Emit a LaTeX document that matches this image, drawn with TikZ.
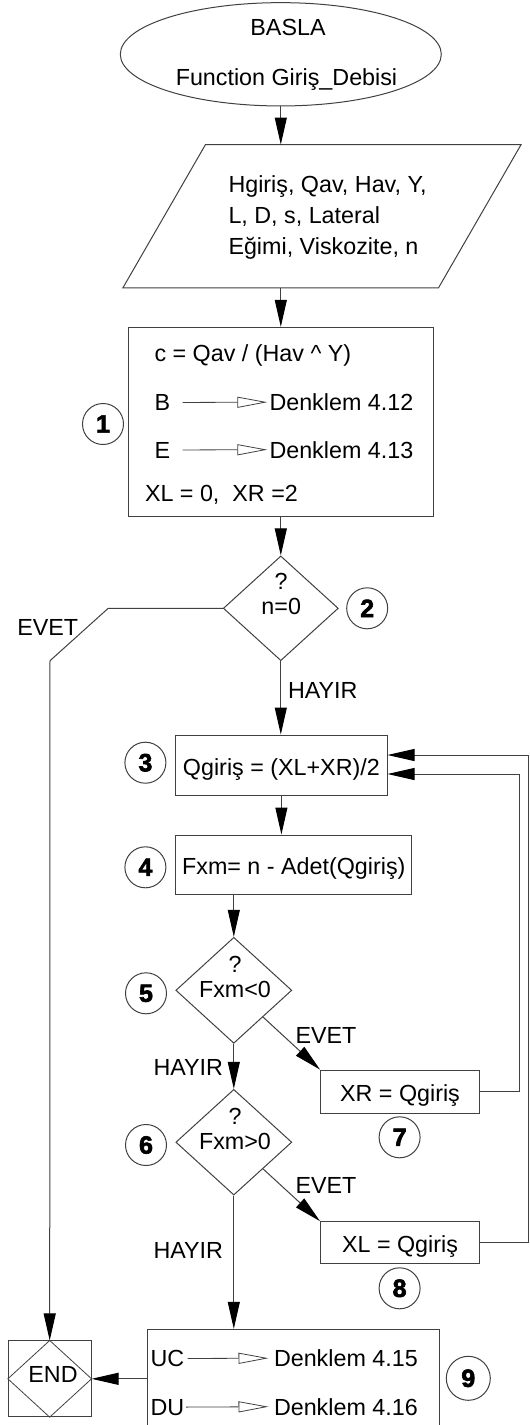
\documentclass[tikz,border=0pt]{standalone}
\usepackage{fontspec}
\setmainfont{Liberation Sans}
\newfontfamily\stepfont[BoldFeatures={FakeBold=2.5}]{Liberation Sans}
\usetikzlibrary{shapes.geometric,arrows.meta}

\newcommand\flowfont{\fontsize{23.3}{25}\selectfont}

\begin{document}
\begin{tikzpicture}[x=1pt,y=-1pt,font=\flowfont,line width=1pt]
    \tikzset{
        box/.style={draw=black!75,rectangle,inner sep=0pt,
            text height=20pt,text depth=0pt},
        dec/.style={draw=black!75,diamond,inner sep=0pt},
        num/.style={draw=black!75,circle,minimum size=41pt,inner sep=0pt,
            font=\stepfont\bfseries\fontsize{25}{25}\selectfont},
        txt/.style={inner sep=0pt,anchor=base west},
        flow/.style={draw=black!75,
            -{Triangle[length=27pt,width=12pt,color=black,fill=black]}},
        link/.style={draw=black!75,line width=0.8pt,
            -{Triangle[open,length=30pt,width=11pt]}}
    }
    \useasboundingbox (0,0) rectangle (530,1425);

    % start
    \node[draw=black!75,ellipse,minimum width=321pt,minimum height=103.3pt,
        inner sep=0pt] (start) at (280.8,54.3) {};
    \node[anchor=base,inner sep=0pt] (startA) at (288,35) {BASLA};
    \node[anchor=base,inner sep=0pt] (startB) at (286.5,85)
        {Function Giriş\_Debisi};

    % input data (slanted box)
    \node[minimum width=314.6pt,minimum height=142.3pt,inner sep=0pt]
        (inp) at (322,216.2) {};
    \draw[black!75] ([xshift=41.3pt]inp.north west) -- ([xshift=41.3pt]inp.north east)
        -- ([xshift=-41.3pt]inp.south east) -- ([xshift=-41.3pt]inp.south west) -- cycle;
    \node[anchor=south west,inner sep=0pt,align=left,
        font=\fontsize{23.3}{31}\selectfont] (inpT) at (228,260)
        {Hgiriş, Qav, Hav, Y,\\L, D, s, Lateral\\Eğimi, Viskozite, n};

    % step 1
    \node[box,minimum width=305.2pt,minimum height=188.7pt] (b1) at (280.8,421.7) {};
    \node[txt] (cdef) at (154,361.5) {c = Qav / (Hav \textasciicircum\ Y)};
    \node[txt] (bsym) at (154,410.5) {B};
    \node[txt] (beq) at (269,410.5) {Denklem 4.12};
    \node[txt] (esym) at (154,458) {E};
    \node[txt] (eeq) at (269,458) {Denklem 4.13};
    \node[txt] (xinit) at (144.5,501) {XL = 0,\ \ XR =2};
    \draw[link,shorten <=12pt,shorten >=1.7pt] (bsym.east) -- (beq.west);
    \draw[link,shorten <=12pt,shorten >=1.7pt] (esym.east) -- (eeq.west);
    \node[num] (n1) at (103,424) {1};

    % step 2
    \node[dec,minimum width=115pt,minimum height=104.7pt] (d2) at (280.8,608.3) {};
    \node[anchor=south,inner sep=0pt,align=center] (d2t) at (281.2,615) {?\\n=0};
    \node[num] (n2) at (367.2,608.3) {2};
    \node[anchor=base,inner sep=0pt] (yes2) at (47.7,635) {EVET};
    \node[anchor=base west,inner sep=0pt] (no2) at (287.5,698) {HAYIR};

    % steps 3 and 4
    \node[box,minimum width=211.2pt,minimum height=60pt] (b3) at (281.4,765)
        {Qgiriş = (XL+XR)/2};
    \node[num] (n3) at (145.4,762.7) {3};
    \node[box,minimum width=236pt,minimum height=59pt] (b4) at (293.8,864.5)
        {Fxm= n - Adet(Qgiriş)};
    \node[num] (n4) at (145.4,867.3) {4};

    % step 5
    \node[dec,minimum width=116pt,minimum height=106pt] (d5) at (233.8,990.3) {};
    \node[anchor=south,inner sep=0pt,align=center] (d5t) at (235,998.3) {?\\Fxm<0};
    \node[num] (n5) at (146,993.3) {5};
    \node[anchor=base west,inner sep=0pt] (yes5) at (295,1043) {EVET};
    \node[anchor=base east,inner sep=0pt] (no5) at (223.5,1075) {HAYIR};

    % step 7
    \node[box,minimum width=159pt,minimum height=43.3pt] (b7) at (400,1091.7)
        {XR = Qgiriş};
    \node[num] (n7) at (399.6,1137.3) {7};

    % step 6
    \node[dec,minimum width=116pt,minimum height=105.7pt] (d6) at (233.8,1142.2) {};
    \node[anchor=south,inner sep=0pt,align=center] (d6t) at (235,1150) {?\\Fxm>0};
    \node[num] (n6) at (146,1145) {6};
    \node[anchor=base west,inner sep=0pt] (yes6) at (295,1193) {EVET};
    \node[anchor=base east,inner sep=0pt] (no6) at (223.5,1258) {HAYIR};

    % step 8
    \node[box,minimum width=159pt,minimum height=42.3pt] (b8) at (400,1242.8)
        {XL = Qgiriş};
    \node[num] (n8) at (399.6,1288.3) {8};

    % step 9
    \node[box,minimum width=292.5pt,minimum height=98.7pt] (b9) at (293.3,1378.7) {};
    \node[txt] (ucsym) at (150,1366.5) {UC};
    \node[txt] (uceq) at (273.5,1366.5) {Denklem 4.15};
    \node[txt] (dusym) at (150,1415) {DU};
    \node[txt] (dueq) at (273.5,1415) {Denklem 4.16};
    \draw[link,shorten <=3pt,shorten >=5pt] (ucsym.east) -- (uceq.west);
    \draw[link,shorten <=1.5pt,shorten >=5pt] (dusym.east) -- (dueq.west);
    \node[num,minimum size=44pt] (n9) at (468.3,1378.3) {9};

    % end
    \node[draw=black!75,rectangle,minimum width=82.7pt,minimum height=75.7pt,
        inner sep=0pt] (stop) at (49.7,1378.8) {};
    \draw[black!75,line width=0.8pt]
        (stop.north) -- (stop.east) -- (stop.south) -- (stop.west) -- cycle;
    \node[inner sep=0pt] (stopT) at (53,1374) {END};

    % flow lines
    \draw[flow] (start.south) -- (start.south |- inp.north);
    \draw[flow] (b1.north |- inp.south) -- (b1.north);
    \draw[flow] (b1.south) -- (d2.north);
    \draw[flow] (d2.south) -- (d2.south |- b3.north);
    \draw[flow] (b3.south) -- (b3.south |- b4.north);
    \draw[flow] (d5.north |- b4.south) -- (d5.north);
    \draw[flow] (d5.south) -- (d6.north);
    \draw[flow] (d5.south east) -- (b7.north west);
    \draw[flow] (d6.south east) -- (b8.north west);
    \draw[flow] (d6.south) -- (d6.south |- b9.north);
    \draw[flow] (b7.east) -| (519.6,774) -- (b3.east |- 0,774);
    \draw[flow] (b8.east) -| (528.5,755) -- (b3.east |- 0,755);
    \draw[flow] (d2.west) -- (108.2,608.3) -- (50,660.7) -- (stop.north);
    \draw[flow] (stop.east -| b9.west) -- (stop.east);
\end{tikzpicture}
\end{document}
